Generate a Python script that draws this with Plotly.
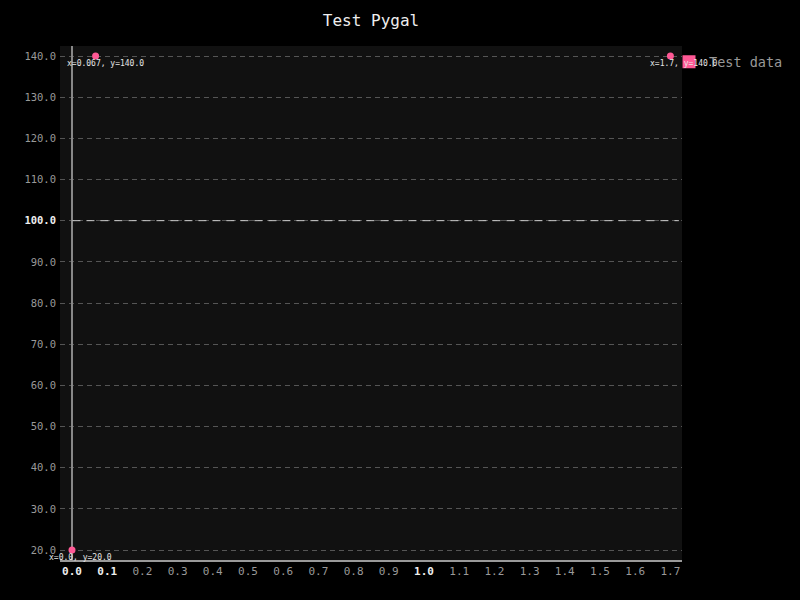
import plotly.graph_objects as go

title = "Test Pygal"
series_name = "Test data"
xs = [0.0, 0.067, 1.7]
ys = [20.0, 140.0, 140.0]
value_labels = ["x=0.0, y=20.0", "x=0.067, y=140.0", "x=1.7, y=140.0"]
label_xshift = [-25, -31, -22]

x_ticks = [round(i * 0.1, 1) for i in range(18)]
x_major = [0.0, 0.1, 1.0]
y_ticks = [20.0 + 10 * i for i in range(13)]
y_major = [100.0]

FONT = "DejaVu Sans Mono"
FG = "#999"
FG_STRONG = "#eee"
COLOR = "#ff5995"

def fmt(v, majors):
    t = f"{v:.1f}"
    if v in majors:
        return f"<span style='color:{FG_STRONG}'><b>{t}</b></span>"
    return t

fig = go.Figure()
fig.add_trace(go.Scatter(
    x=xs, y=ys, mode="markers", name=series_name, showlegend=False,
    marker=dict(color=COLOR, size=7, symbol="circle"),
))
# legend entry (square swatch like pygal)
fig.add_trace(go.Scatter(
    x=[None], y=[None], mode="markers", name=series_name, showlegend=True,
    marker=dict(color=COLOR, size=13, symbol="square"),
))

for x, y, t, sh in zip(xs, ys, value_labels, label_xshift):
    fig.add_annotation(x=x, y=y, text=t, showarrow=False, xanchor="left",
                       yanchor="middle", xshift=sh, yshift=-7,
                       font=dict(family=FONT, size=8, color="#e6e6e6"))

for v in y_major:
    fig.add_shape(type="line", xref="paper", x0=0.02, x1=0.995, y0=v, y1=v,
                  line=dict(color="#ccc", width=1, dash="8px,6px"), layer="above")

fig.update_layout(
    width=800, height=600,
    paper_bgcolor="black", plot_bgcolor="#111",
    margin=dict(l=60, r=118, t=46, b=40, autoexpand=False),
    title=dict(text=title, x=(60 + 311) / 800, xanchor="center", y=1 - 20 / 600,
               yanchor="middle", font=dict(family=FONT, size=16, color=FG_STRONG)),
    font=dict(family=FONT, size=10, color=FG),
    showlegend=True,
    legend=dict(x=(669 - 60) / 622, xanchor="left", y=(560 - 62) / 514, yanchor="middle",
                font=dict(family=FONT, size=13.5, color=FG), bgcolor="rgba(0,0,0,0)",
                itemwidth=30),
    xaxis=dict(
        range=[-12 / 352, 610 / 352],
        tickvals=x_ticks, ticktext=[fmt(v, x_major) for v in x_ticks],
        showgrid=False, zeroline=True, zerolinecolor="#888", zerolinewidth=2,
        showline=True, linecolor="#999", linewidth=2, ticks="",
        tickfont=dict(family=FONT, size=11, color=FG),
    ),
    yaxis=dict(
        range=[20 - 10 / 4.1167, 140 + 10 / 4.1167],
        tickvals=y_ticks, ticktext=[fmt(v, y_major) for v in y_ticks],
        showgrid=True, gridcolor="#555", griddash="5px,4px", gridwidth=1,
        zeroline=False, showline=False, ticks="", ticklabelstandoff=3,
        tickfont=dict(family=FONT, size=10.5, color=FG),
    ),
)

fig.write_html("out.html")
